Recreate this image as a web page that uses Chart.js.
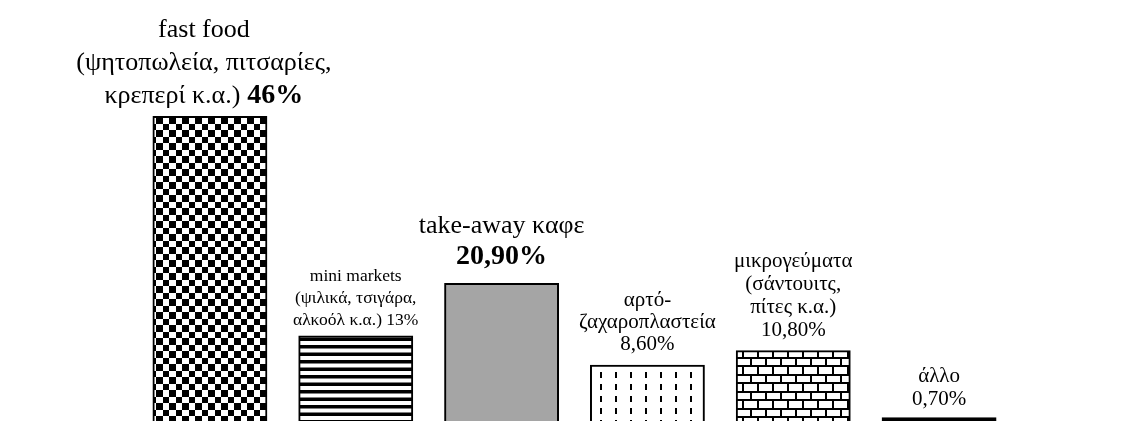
<!DOCTYPE html>
<html>
<head>
<meta charset="utf-8">
<script src="https://cdn.jsdelivr.net/npm/chart.js@4.4.1/dist/chart.umd.min.js"></script>
<style>
  html, body { margin: 0; padding: 0; background: #fff; overflow: hidden; }
  #wrap { width: 1131px; height: 423px; }
</style>
</head>
<body>
<div id="wrap"><canvas id="chart" width="1131" height="423"></canvas></div>
<script>
// Datos
const categories = [
    ['fast food', '(ψητοπωλεία, πιτσαρίες,', 'κρεπερί κ.α.)'],
    ['mini markets', '(ψιλικά, τσιγάρα,', 'αλκοόλ κ.α.)'],
    ['take-away καφε'],
    ['αρτό-', 'ζαχαροπλαστεία'],
    ['μικρογεύματα', '(σάντουιτς,', 'πίτες κ.α.)'],
    ['άλλο']
];
const shares = [46, 13, 20.9, 8.6, 10.8, 0.7];
const shareLabels = ['46%', '13%', '20,90%', '8,60%', '10,80%', '0,70%'];

// Estilo de las etiquetas (tamaño, interlineado, separación, desplazamiento)
const labelStyle = [
    { size: 26, lineH: 33, gap: 14, dx: -6, boldValue: true, inline: true, valueSize: 28 },
    { size: 17.5, lineH: 22, gap: 12, dx: 0, boldValue: false, inline: true, valueSize: 17.5 },
    { size: 26, lineH: 31, gap: 20, dx: 0, boldValue: true, inline: false, valueSize: 28 },
    { size: 21, lineH: 22, gap: 16, dx: 0, boldValue: false, inline: false, valueSize: 21 },
    { size: 21, lineH: 23, gap: 15, dx: 0, boldValue: false, inline: false, valueSize: 21 },
    { size: 21, lineH: 23, gap: 13, dx: 0, boldValue: false, inline: false, valueSize: 21 }
];

const FONT = "'Liberation Serif', 'Times New Roman', serif";

function tile(w, h, draw) {
    const c = document.createElement('canvas');
    c.width = w;
    c.height = h;
    const g = c.getContext('2d');
    g.fillStyle = '#fff';
    g.fillRect(0, 0, w, h);
    g.fillStyle = '#000';
    draw(g);
    return document.getElementById('chart').getContext('2d').createPattern(c, 'repeat');
}

// Tramas
const checker = tile(26, 26, g => {
    const s = [0, 7, 13, 20, 26];
    for (let r = 0; r < 4; r++) {
        for (let c = 0; c < 4; c++) {
            if ((r + c) % 2 === 0) g.fillRect(s[c], s[r], s[c + 1] - s[c], s[r + 1] - s[r]);
        }
    }
});
const stripes = tile(4, 15, g => {
    g.fillRect(0, 0, 4, 3.5);
    g.fillRect(0, 7.5, 4, 3.5);
});
const dashes = tile(15, 12, g => {
    g.fillRect(0, 0, 2, 6);
});
const bricks = tile(15, 17, g => {
    g.fillRect(0, 0, 15, 2);
    g.fillRect(0, 8, 15, 2);
    g.fillRect(0, 0, 2, 8);
    g.fillRect(7, 8, 2, 9);
});

const fills = [checker, stripes, '#a5a5a5', dashes, bricks, '#000'];

const labelPlugin = {
    id: 'etiquetas',
    afterDatasetsDraw(chart) {
        const ctx = chart.ctx;
        const meta = chart.getDatasetMeta(0);
        ctx.save();
        ctx.fillStyle = '#000';
        ctx.textBaseline = 'alphabetic';
        ctx.textAlign = 'left';
        meta.data.forEach((bar, i) => {
            const st = labelStyle[i];
            const regular = `${st.size}px ${FONT}`;
            const valFont = `${st.boldValue ? 'bold ' : ''}${st.valueSize}px ${FONT}`;
            const lines = categories[i].map(t => [[t, regular]]);
            if (st.inline) {
                lines[lines.length - 1].push([' ' + shareLabels[i], valFont]);
            } else {
                lines.push([[shareLabels[i], valFont]]);
            }
            let base = bar.y - st.gap - (lines.length - 1) * st.lineH;
            lines.forEach(segs => {
                let total = 0;
                segs.forEach(([t, f]) => { ctx.font = f; total += ctx.measureText(t).width; });
                let x = bar.x + st.dx - total / 2;
                segs.forEach(([t, f]) => {
                    ctx.font = f;
                    ctx.fillText(t, x, base);
                    x += ctx.measureText(t).width;
                });
                base += st.lineH;
            });
        });
        ctx.restore();
    }
};

new Chart(document.getElementById('chart'), {
    type: 'bar',
    data: {
        labels: categories.map(c => c.join(' ')),
        datasets: [{
            data: shares,
            backgroundColor: fills,
            borderColor: '#000',
            borderWidth: 2,
            borderSkipped: false,
            inflateAmount: 1,
            barPercentage: 0.774,
            categoryPercentage: 1
        }]
    },
    options: {
        responsive: false,
        devicePixelRatio: 1,
        animation: false,
        layout: { padding: { left: 137, right: 119, top: 24, bottom: 0 } },
        scales: {
            x: { display: false },
            y: { display: false, min: 0, max: 60 }
        },
        plugins: {
            legend: { display: false },
            tooltip: { enabled: false }
        }
    },
    plugins: [labelPlugin]
});
</script>
</body>
</html>
